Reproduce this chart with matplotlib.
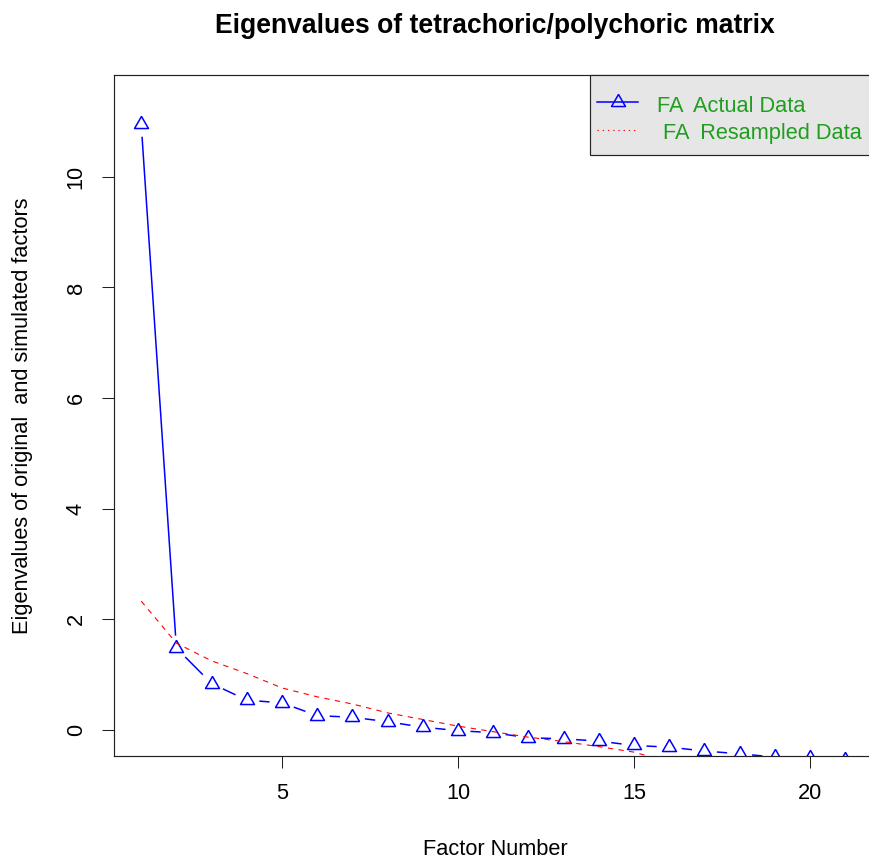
"""fa.parallel 風のスクリープロット (実データ vs リサンプルデータの固有値)。"""

import numpy as np
import matplotlib

matplotlib.use("Agg")
import matplotlib.pyplot as plt
from matplotlib.lines import Line2D
from matplotlib.patches import Rectangle

plt.rcParams["font.family"] = ["Liberation Sans", "DejaVu Sans"]

# --- データ ---
factor_number = list(range(1, 22))
fa_actual = [10.95, 1.48, 0.84, 0.54, 0.49, 0.26, 0.23, 0.15, 0.05, -0.01,
             -0.05, -0.14, -0.16, -0.20, -0.28, -0.31, -0.38, -0.43, -0.49,
             -0.50, -0.54]
fa_resampled = [2.33, 1.57, 1.25, 1.02, 0.76, 0.60, 0.47, 0.31, 0.19, 0.07,
                -0.03, -0.13, -0.21, -0.30, -0.40, -0.58, -0.62, -0.66,
                -0.70, -0.74, -0.78]

title = "Eigenvalues of tetrachoric/polychoric matrix"
xlabel = "Factor Number"
ylabel = "Eigenvalues of original  and simulated factors"
legend_labels = ["FA  Actual Data", " FA  Resampled Data"]
xticks = [5, 10, 15, 20]
yticks = [0, 2, 4, 6, 8, 10]

W, H, DPI = 869, 863, 100
BLUE, RED, GREEN = "#0000ff", "#ff0000", "#1f9e1f"
FS = 15.7

# R の pch=2 (正三角形、重心が中心)
TRIANGLE = [(0, 2), (1.732, -1), (-1.732, -1), (0, 2)]

fig = plt.figure(figsize=(W / DPI, H / DPI), dpi=DPI)
# プロット領域 (右端は画像外まで伸びている)
L, R, T, B = 114, 876, 75, 756
ax = fig.add_axes([L / W, 1 - B / H, (R - L) / W, (B - T) / H])
ax.set_xlim(0.227, 21.875)
ax.set_ylim(-0.47, 11.84)


def px_axes(px, py):
    """画像ピクセル座標 -> axes 座標"""
    return (px - L) / (R - L), (B - py) / (B - T)


def gapped_line(ax, xs, ys, gap_px, **kw):
    """R の type='b' のように点の周りを空けて線分を描く。"""
    pts = ax.transData.transform(np.column_stack([xs, ys]))
    inv = ax.transData.inverted()
    for p0, p1 in zip(pts[:-1], pts[1:]):
        d = p1 - p0
        n = np.hypot(*d)
        if n <= 2 * gap_px:
            continue
        u = d / n
        seg = inv.transform([p0 + u * gap_px, p1 - u * gap_px])
        ax.plot(seg[:, 0], seg[:, 1], solid_capstyle="butt", **kw)


gapped_line(ax, factor_number, fa_actual, 12.5, color=BLUE, lw=1.1)
ax.plot(factor_number, fa_actual, linestyle="none", marker=TRIANGLE,
        ms=11.6, mfc="none", mec=BLUE, mew=1.1)
ax.plot(factor_number, fa_resampled, color=RED, lw=0.8,
        linestyle=(0, (4.8, 4.8)))

ax.set_xticks(xticks)
ax.set_yticks(yticks)
ax.tick_params(axis="both", direction="out", length=8.6, width=0.75,
               color="#222222", labelsize=FS, pad=11.0)
for lab in ax.get_yticklabels():
    lab.set_rotation(90)
    lab.set_va("center")
for sp in ax.spines.values():
    sp.set_linewidth(0.85)
    sp.set_color("#222222")

# 凡例 (R の legend を手で再現)
x0, y0 = px_axes(590, 155)
ax.add_patch(Rectangle((x0, y0), 1.2 - x0, 1 - y0, transform=ax.transAxes,
                       facecolor="#e6e6e6", edgecolor="#222222", lw=0.85,
                       clip_on=False, zorder=5))
hx0, _ = px_axes(597, 0)
hx1, _ = px_axes(638, 0)
tx, _ = px_axes(657, 0)
_, r1 = px_axes(0, 102.5)
_, r2 = px_axes(0, 130)
_, b1 = px_axes(0, 111.5)
_, b2 = px_axes(0, 138.5)
ax.add_line(Line2D([hx0, hx1], [r1, r1], transform=ax.transAxes, color=BLUE,
                   lw=1.1, zorder=6, clip_on=False))
ax.add_line(Line2D([(hx0 + hx1) / 2], [r1], transform=ax.transAxes,
                   marker=TRIANGLE, ms=11.6, mfc="none", mec=BLUE, mew=1.1,
                   linestyle="none", zorder=6, clip_on=False))
ax.add_line(Line2D([hx0, hx1], [r2, r2], transform=ax.transAxes, color=RED,
                   lw=0.8, linestyle=(0, (1.2, 3.5)), zorder=6, clip_on=False))
for lab, by in zip(legend_labels, [b1, b2]):
    ax.text(tx, by, lab, transform=ax.transAxes, color=GREEN, fontsize=FS,
            va="baseline", ha="left", zorder=7, clip_on=False)

# タイトル・軸ラベル
cx = (L + R) / 2 / W
fig.text(cx, 1 - 33 / H, title, ha="center", va="baseline",
         fontsize=19.1, fontweight="bold")
fig.text(cx, 1 - 855 / H, xlabel, ha="center", va="baseline", fontsize=FS)
fig.text(23 / W, 1 - (T + B) / 2 / H, ylabel, ha="center", va="center",
         rotation=90, fontsize=FS)

fig.savefig("out.png", dpi=DPI)
plt.close(fig)
